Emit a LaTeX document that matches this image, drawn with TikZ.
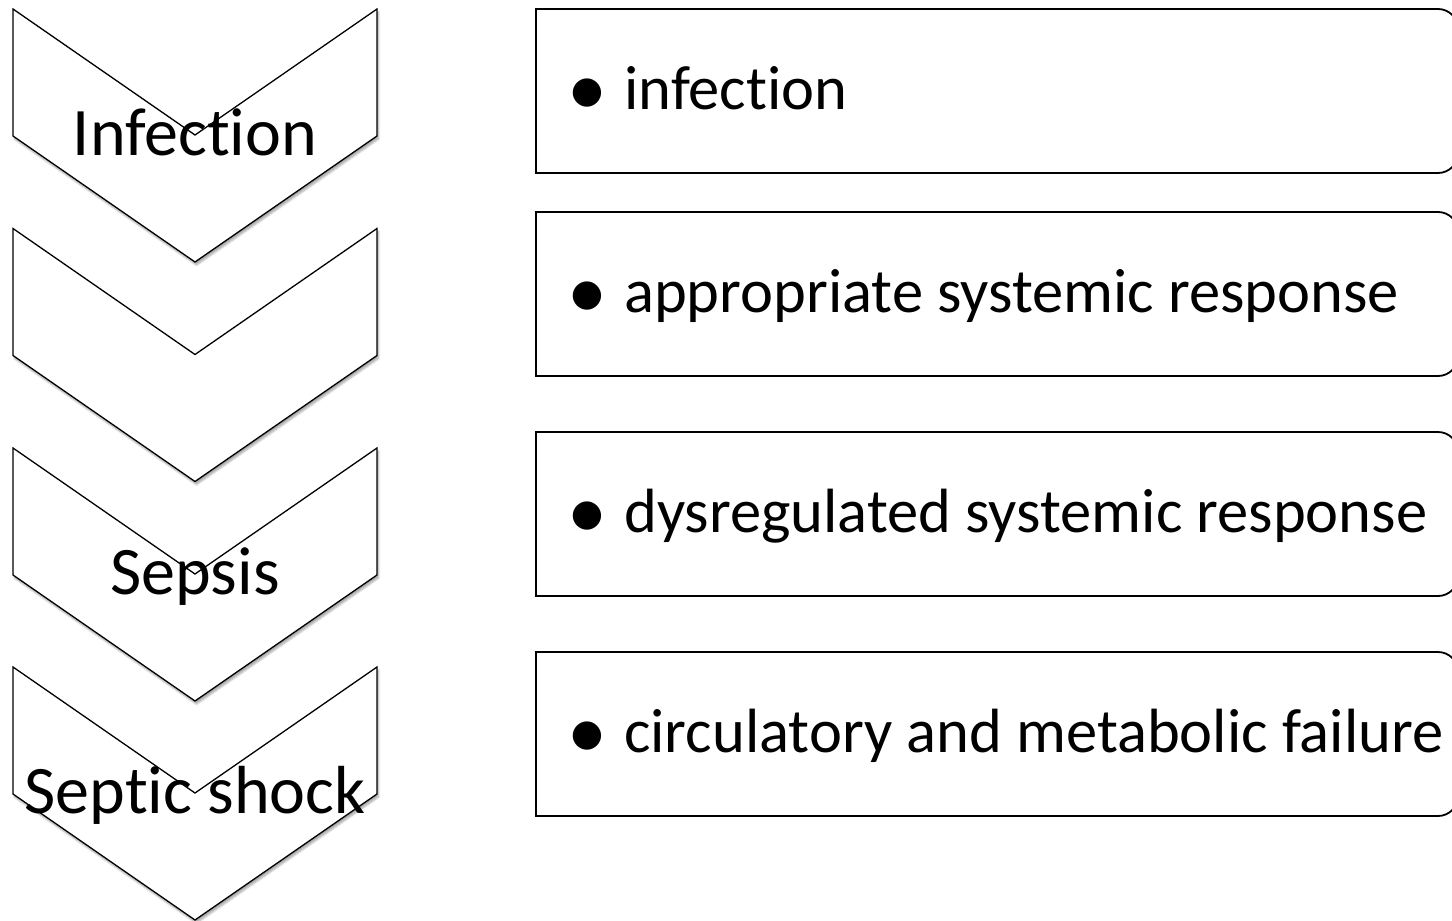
\documentclass[tikz,border=0pt]{standalone}
\usepackage{fontspec}
\setmainfont{Carlito}[Ligatures=NoCommon]
\usetikzlibrary{shadows.blur}
\newcommand{\bul}{\llap{\makebox[0pt][c]{\raisebox{-6.5pt}{\fontsize{80}{80}\selectfont\textbullet}}\hspace{37pt}}}
\begin{document}
\begin{tikzpicture}[x=1pt,y=-1pt,
  chev/.style={draw=black, line width=1.3pt, fill=white, line join=miter,
    blur shadow={shadow xshift=1.5pt, shadow yshift=-3pt, shadow blur steps=6, shadow opacity=35}},
  boxshape/.style={draw=black, line width=1.8pt, fill=white},
  chevlabel/.style={font=\fontsize{68}{80}\selectfont, inner sep=0pt, anchor=base},
  boxlabel/.style={font=\fontsize{62.5}{74}\selectfont, anchor=base west, inner sep=0pt}]
\useasboundingbox (0,0) rectangle (1452,921);
% chevrons
\foreach \t in {9,228.5,448,667} {
  \draw[chev] (13,\t) -- (195,\t+126) -- (377,\t) -- (377,\t+127) -- (195,\t+253) -- (13,\t+127) -- cycle;
}
\node[chevlabel] (c1) at (195,155) {Infection};
\node[chevlabel] (c3) at (195,594) {Sepsis};
\node[chevlabel] (c4) at (195,813) {Septic shock};
% boxes
\foreach \t in {9,212,432,652} {
  \draw[boxshape] (536,\t) -- (1200,\t) [rounded corners=20pt] -- (1458,\t) -- (1458,\t+164) -- (1200,\t+164) [sharp corners] -- (536,\t+164) -- cycle;
}
\node[boxlabel] (t1) at (624,109) {\bul infection};
\node[boxlabel] (t2) at (624,312) {\bul appropriate systemic response};
\node[boxlabel] (t3) at (624,532) {\bul dysregulated systemic response};
\node[boxlabel] (t4) at (624,752) {\bul circulatory and metabolic failure};
\end{tikzpicture}
\end{document}
